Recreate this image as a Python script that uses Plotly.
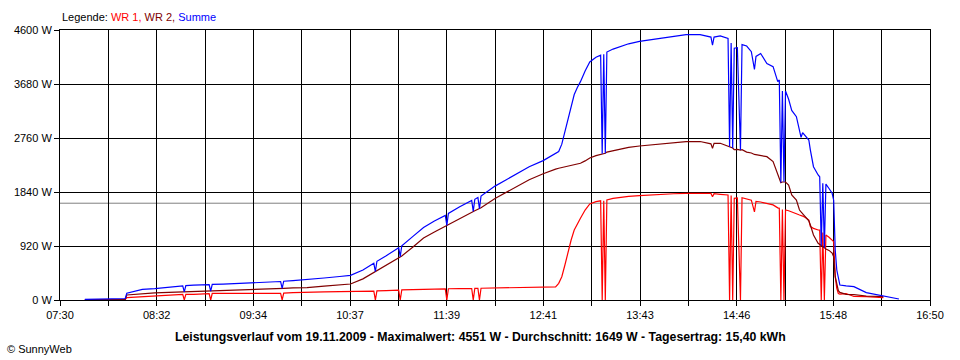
import plotly.graph_objects as go

# ---- data ----
times = ["07:46","08:00","08:12","08:13","08:22","08:23","08:31","08:40","08:49","08:50","08:51","08:56",
         "09:06","09:07","09:08","09:15","09:24","09:30","09:39","09:52","09:53","09:54","10:00","10:09",
         "10:20","10:30","10:37","10:45","10:52","10:53","10:54","11:00","11:08","11:09","11:10","11:17",
         "11:24","11:31","11:38","11:39","11:40","11:47","11:55","11:56","11:57","11:59","12:00","12:01",
         "12:10","12:17","12:24","12:32","12:41","12:45","12:47","12:49","12:51","12:53","12:55","12:57",
         "12:59","13:01","13:03","13:05","13:08","13:11","13:15","13:18","13:19","13:20","13:21","13:22",
         "13:26","13:30","13:36","13:43","13:50","13:56","14:05","14:13","14:22","14:29","14:30","14:31",
         "14:35","14:40","14:41","14:42","14:43","14:44","14:46","14:48","14:49","14:52","14:55","14:57",
         "14:58","15:01","15:05","15:09","15:12","15:13","15:14","15:15","15:16","15:17","15:19","15:21",
         "15:24","15:26","15:27","15:28","15:30","15:32","15:33","15:35","15:38","15:39","15:40","15:41",
         "15:42","15:43","15:45","15:47","15:48","15:49","15:50","15:51","15:52","15:56","16:01","16:09",
         "16:20","16:30"]

wr1 = [5,8,12,40,55,60,68,80,95,0,95,97,
       110,0,112,114,114,114,114,114,0,118,125,135,
       140,142,142,145,150,0,155,160,168,0,172,176,
       180,185,190,0,192,194,196,0,197,198,0,200,
       205,210,215,220,225,220,218,225,284,397,596,823,
       1022,1193,1300,1392,1533,1636,1675,1690,0,1692,0,1704,
       1730,1749,1765,1777,1790,1800,1810,1817,1817,1815,1760,1810,
       1800,1789,0,1780,0,1732,1740,0,1743,1720,1700,1500,
       1680,1670,1647,1620,1570,1562,0,1540,0,1533,1520,1505,
       1470,1448,1440,1430,1400,1363,1250,1221,1193,1190,0,1150,
       0,1107,1070,1010,994,397,199,110,100,110,60,57,
       40,None]

wr2 = [5,10,12,85,105,110,120,130,138,138,140,142,
       146,146,148,152,159,165,182,196,196,198,205,212,
       235,255,273,360,470,485,500,590,715,735,750,900,
       1055,1160,1260,1270,1285,1390,1500,1510,1520,1545,1555,1570,
       1730,1830,1930,2050,2150,2195,2215,2230,2244,2255,2265,2280,
       2295,2305,2315,2329,2370,2420,2460,2480,2490,2495,2500,2520,
       2545,2567,2600,2624,2640,2655,2680,2698,2700,2660,2584,2670,
       2670,2624,2610,2600,2590,2560,2565,2555,2560,2520,2505,2480,
       2475,2465,2442,2357,2130,2080,2000,2010,2016,2010,1960,1789,
       1704,1533,1500,1470,1420,1350,1278,1107,966,950,930,908,
       890,870,845,800,738,397,250,160,130,95,90,68,
       57,None]

summe = [10,20,25,115,170,180,195,220,240,140,245,255,
         262,150,265,270,280,295,305,315,200,320,330,345,
         375,400,420,510,625,485,660,755,890,740,925,1080,
         1235,1345,1440,1270,1475,1585,1695,1510,1715,1745,1555,1770,
         1940,2045,2150,2270,2375,2440,2470,2500,2530,2655,2860,3100,
         3315,3500,3620,3720,3900,4055,4135,4170,2490,4185,2500,4225,
         4275,4316,4365,4405,4430,4455,4490,4520,4520,4480,4340,4480,
         4500,4455,2610,4380,2590,4290,4300,2555,4350,4327,4230,3930,
         4150,4200,4030,3975,3720,3750,2000,3560,2016,3560,3420,3230,
         3123,2896,2772,2850,2783,2726,2555,2271,2130,2100,930,1988,
         890,1975,1900,1818,1700,852,511,369,255,240,227,125,
         70,17]

average_w = 1649
y_ticks = [0, 920, 1840, 2760, 3680, 4600]
y_tick_labels = ["0 W", "920 W", "1840 W", "2760 W", "3680 W", "4600 W"]
x_tick_labels = ["07:30", "08:32", "09:34", "10:37", "11:39", "12:41", "13:43", "14:46", "15:48", "16:50"]
title_text = ("Leistungsverlauf vom 19.11.2009 - Maximalwert: 4551 W - "
              "Durchschnitt: 1649 W - Tagesertrag: 15,40 kWh")


def to_min(s):
    h, m = s.split(":")
    return int(h) * 60 + int(m)


x = [to_min(t) for t in times]
x_start = to_min(x_tick_labels[0])
x_end = to_min(x_tick_labels[-1])
n_int = 2 * (len(x_tick_labels) - 1)
step = (x_end - x_start) / n_int
tickvals = [x_start + k * step for k in range(n_int + 1)]
ticktext = [x_tick_labels[k // 2] if k % 2 == 0 else "" for k in range(n_int + 1)]

FONT = "Liberation Sans, Arial, sans-serif"

fig = go.Figure()
fig.add_trace(go.Scatter(x=x, y=wr1, mode="lines", line=dict(color="#FF0000", width=1.2),
                         name="WR 1", connectgaps=False))
fig.add_trace(go.Scatter(x=x, y=wr2, mode="lines", line=dict(color="#800000", width=1.2),
                         name="WR 2", connectgaps=False))
fig.add_trace(go.Scatter(x=x, y=summe, mode="lines", line=dict(color="#0000FF", width=1.2),
                         name="Summe", connectgaps=False))

fig.add_shape(type="line", xref="paper", x0=0, x1=1, yref="y", y0=average_w, y1=average_w,
              line=dict(color="#808080", width=1), layer="below")

fig.update_layout(
    width=960, height=360,
    margin=dict(l=60, r=30, t=30, b=60),
    paper_bgcolor="white", plot_bgcolor="white",
    showlegend=False,
    font=dict(family=FONT, size=11, color="black"),
    xaxis=dict(range=[x_start, x_end], tickmode="array", tickvals=tickvals, ticktext=ticktext,
               showgrid=True, gridcolor="black", gridwidth=1, zeroline=False,
               showline=True, linecolor="black", linewidth=1, mirror=True,
               ticks="outside", ticklen=5, tickcolor="black",
               tickfont=dict(family=FONT, size=11, color="black")),
    yaxis=dict(range=[0, 4600], tickmode="array", tickvals=y_ticks, ticktext=y_tick_labels,
               showgrid=True, gridcolor="black", gridwidth=1, zeroline=False,
               showline=True, linecolor="black", linewidth=1, mirror=True,
               ticks="outside", ticklen=5, tickcolor="black",
               tickfont=dict(family=FONT, size=11, color="black")),
    annotations=[
        dict(text='Legende: <span style="color:#FF0000">WR 1,</span> '
                  '<span style="color:#800000">WR 2,</span> '
                  '<span style="color:#0000FF">Summe</span>',
             xref="paper", yref="paper", x=0, y=1, xanchor="left", yanchor="bottom",
             yshift=5, showarrow=False, font=dict(family=FONT, size=11, color="black")),
        dict(text="<b>" + title_text + "</b>", xref="paper", yref="paper",
             x=(480 - 60) / 870, y=0, xanchor="center", yanchor="middle", yshift=-37,
             showarrow=False, font=dict(family=FONT, size=12.3, color="black")),
        dict(text="© SunnyWeb", xref="paper", yref="paper", x=-55 / 870, y=0,
             xanchor="left", yanchor="middle", yshift=-49, showarrow=False,
             font=dict(family=FONT, size=11, color="black")),
    ],
)

fig.write_html("out.html", config={"displayModeBar": False},
               post_script="document.body.style.margin='0';")
